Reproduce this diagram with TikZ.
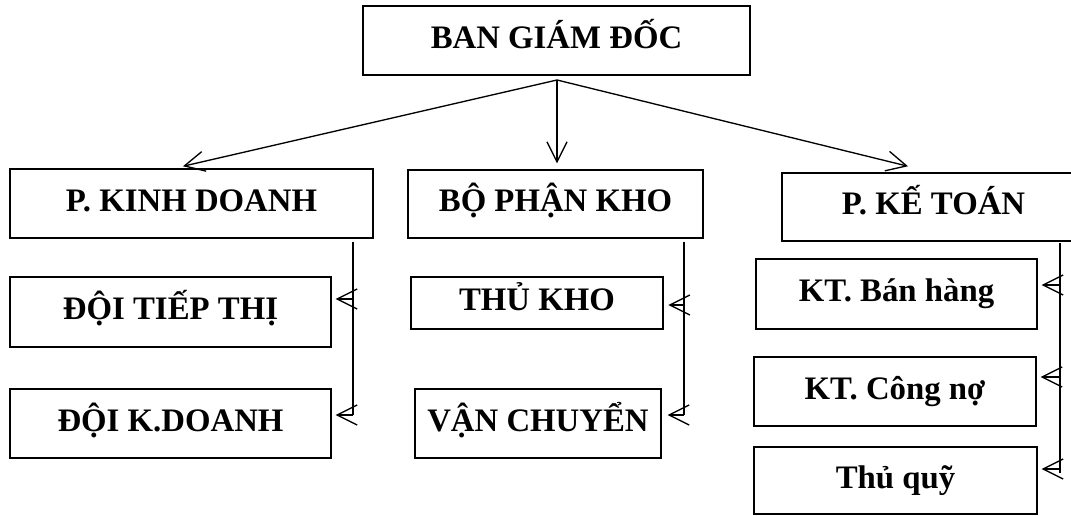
\documentclass[tikz,border=0pt]{standalone}
\usepackage{fontspec}
\setmainfont{Liberation Serif}
\usetikzlibrary{arrows.meta}
\tikzset{
  box/.style={draw, line width=1.1pt, inner sep=0pt, align=center,
    font=\fontsize{24.6}{28}\selectfont\bfseries, text height=17pt, text depth=5pt},
  conn/.style={line width=1pt},
  arr/.style={line width=1pt, -{Straight Barb[length=15pt,width=15pt,line width=1pt]}},
}
\begin{document}
\begin{tikzpicture}[x=0.75pt,y=-0.75pt]
\clip (0,0) rectangle (1071,516);
\fill[white] (0,0) rectangle (1071,516);
% boxes
\node[box, minimum width=290.25pt, minimum height=51.75pt] (bgd) at (556.5,40.5) {BAN GIÁM ĐỐC};
\node[box, minimum width=272.25pt, minimum height=51.75pt] (pkd) at (191.5,203.5) {P. KINH DOANH};
\node[box, minimum width=221.25pt, minimum height=51pt] (bpk) at (555.5,204) {BỘ PHẬN KHO};
\node[box, minimum width=227.25pt, minimum height=51pt] (pkt) at (933.5,207) {P. KẾ TOÁN};
\node[box, minimum width=240.75pt, minimum height=52.5pt] (dtt) at (170.5,312) {ĐỘI TIẾP THỊ};
\node[box, minimum width=240.75pt, minimum height=51.75pt] (dkd) at (170.5,423.5) {ĐỘI K.DOANH};
\node[box, minimum width=189pt, minimum height=39pt] (tk) at (537,303) {THỦ KHO};
\node[box, minimum width=184.5pt, minimum height=51.75pt] (vc) at (538,423.5) {VẬN CHUYỂN};
\node[box, minimum width=210.75pt, minimum height=52.5pt] (kbh) at (896.5,294) {KT. Bán hàng};
\node[box, minimum width=211.5pt, minimum height=51.75pt] (kcn) at (895,391.5) {KT. Công nợ};
\node[box, minimum width=212.25pt, minimum height=50.25pt] (tq) at (895.5,480.5) {Thủ quỹ};
% top connectors
\coordinate (apex) at (557,80);
\draw[arr] (apex) -- ([xshift=-6.4pt,yshift=1.5pt]pkd.north);
\draw[arr, shorten >=4.5pt] (apex) -- (apex |- bpk.north);
\draw[arr] (apex) -- ([xshift=-19.1pt,yshift=4.5pt]pkt.north);
% left column
\coordinate (lt) at (353,242);
\coordinate (l1) at (353,299);
\coordinate (l2) at (353,415);
\draw[conn] (lt) -- (l2);
\draw[arr, shorten >=3pt] (l1) -- (l1 -| dtt.east);
\draw[arr, shorten >=3pt] (l2) -- (l2 -| dkd.east);
% middle column
\coordinate (mt) at (684,242);
\coordinate (m1) at (684,305);
\coordinate (m2) at (684,415);
\draw[conn] (mt) -- (m2);
\draw[arr, shorten >=3.5pt] (m1) -- (m1 -| tk.east);
\draw[arr, shorten >=4.5pt] (m2) -- (m2 -| vc.east);
% right column
\coordinate (rt) at (1060,243);
\coordinate (r1) at (1060,285);
\coordinate (r2) at (1060,377);
\coordinate (r3) at (1060,469);
\coordinate (rb) at (1060,473);
\draw[conn] (rt) -- (rb);
\draw[arr, shorten >=3pt] (r1) -- (r1 -| kbh.east);
\draw[arr, shorten >=3pt] (r2) -- (r2 -| kcn.east);
\draw[arr, shorten >=3pt] (r3) -- (r3 -| tq.east);
\end{tikzpicture}
\end{document}
